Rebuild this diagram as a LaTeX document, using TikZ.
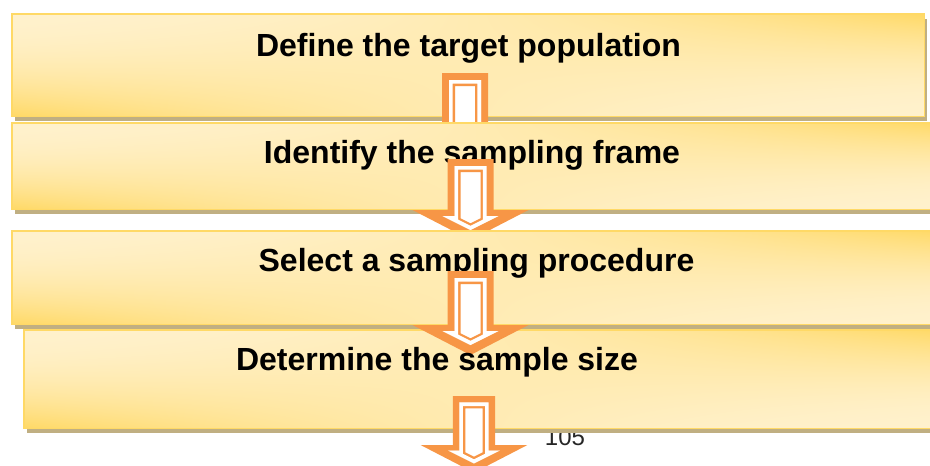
\documentclass[tikz,border=0pt]{standalone}
\usepackage{fontspec}
\setmainfont{Liberation Sans}
\usetikzlibrary{shadows}

\definecolor{boxedge}{HTML}{FFD966}
\definecolor{boxshadow}{HTML}{C0AF82}
\definecolor{arroworange}{HTML}{F79646}
\definecolor{pagegray}{HTML}{262626}

% Pale cream in the top-left and bottom-right corners, golden yellow in the
% other two corners.
\pgfdeclarefunctionalshading{boxglow}{\pgfpoint{0bp}{0bp}}{\pgfpoint{100bp}{100bp}}{}{
 25 sub 50 div dup 0 lt {pop 0} if dup 1 gt {pop 1} if
 exch 25 sub 50 div dup 0 lt {pop 0} if dup 1 gt {pop 1} if
 exch 2 copy mul 3 1 roll 1 exch sub exch 1 exch sub mul add
 dup mul
 dup 0.094 mul 0.945 exch sub exch 0.40 mul 0.80 exch sub 1 3 1 roll
}

\tikzset{
  stepbox/.style={rectangle, draw=boxedge, line width=1.5pt, shade, shading=boxglow,
    inner sep=0pt,
    general shadow={fill=boxshadow, shadow xshift=3pt, shadow yshift=-5pt}},
  steptext/.style={anchor=base, inner sep=0pt, text=black,
    font=\fontsize{32}{38}\selectfont\bfseries},
}

% Inner outline of a block arrow (local coordinates, #1 = path command)
\newcommand{\innerarrow}[2]{#1 (-16,7) -- (16,7) -- (16,#2+6) -- (28,#2+6)
  -- (0,#2+20) -- (-28,#2+6) -- (-16,#2+6) -- cycle;}

% Block arrow: #1 = top-centre coordinate, #2 = shaft length, #3 = scale
\newcommand{\flowarrow}[3]{%
  \begin{scope}[shift={(#1)}, scale=#3]
    \fill[arroworange] (-23,0) -- (23,0) -- (23,#2) -- (58,#2) -- (0,#2+30)
      -- (-58,#2) -- (-23,#2) -- cycle;
    \begin{scope}
      \innerarrow{\clip}{#2}
      \innerarrow{\fill[white]}{#2}
      \innerarrow{\draw[arroworange, line width=12pt, line join=miter]}{#2}
      \innerarrow{\draw[white, line width=7.4pt, line join=miter]}{#2}
    \end{scope}
  \end{scope}}

\begin{document}
\begin{tikzpicture}[x=1pt, y=-1pt]
  \useasboundingbox (0,0) rectangle (930,466);
  \clip (0,0) rectangle (930,466);

  % step 1
  \node[stepbox, minimum width=912.5pt, minimum height=102.5pt] (b1) at (468,65) {};
  \node[steptext] (t1) at (468.5,56) {Define the target population};
  \coordinate (a1) at (465,73);
  \flowarrow{a1}{50}{1}

  % step 2
  \node[stepbox, minimum width=927.5pt, minimum height=86.5pt] (b2) at (475.5,166) {};
  \node[steptext] (t2) at (472,163) {Identify the sampling frame};
  \coordinate (a2) at (470.5,159);
  \flowarrow{a2}{51}{1}

  % step 3
  \node[stepbox, minimum width=927.5pt, minimum height=93.5pt] (b3) at (475.5,277.5) {};
  \node[steptext] (t3) at (476.5,271) {Select a sampling procedure};

  % page number
  \node[anchor=base, inner sep=0pt, text=pagegray, font=\fontsize{24}{28}\selectfont]
    (pg) at (565,445) {105};

  % step 4
  \node[stepbox, minimum width=915.5pt, minimum height=98.5pt] (b4) at (481.5,379) {};
  \coordinate (a3) at (470.5,271);
  \flowarrow{a3}{54}{1}
  \node[steptext] (t4) at (437,370) {Determine the sample size};
  \coordinate (a4) at (474,396);
  \flowarrow{a4}{53.3}{0.92}
\end{tikzpicture}
\end{document}
